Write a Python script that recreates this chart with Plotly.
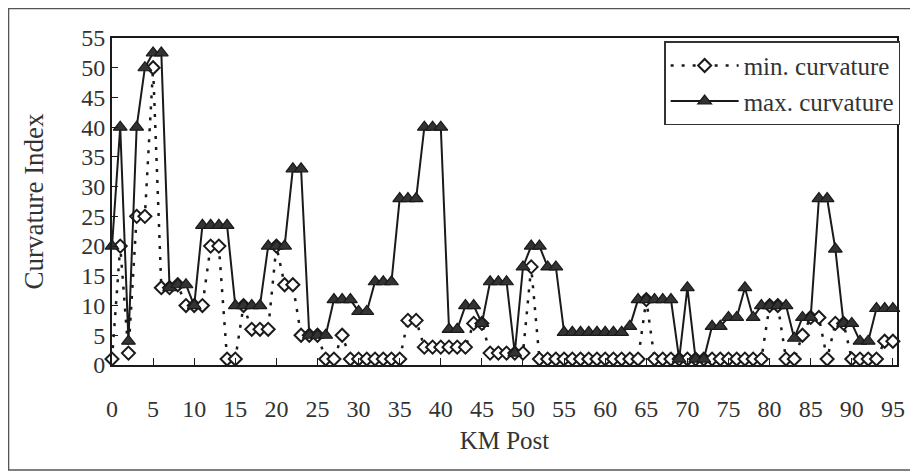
import plotly.graph_objects as go

# ---- data ----
km_post = list(range(0, 96))

min_curvature = [
    1, 20, 2, 25, 25, 50, 13, 13, 13.5, 10,
    10, 10, 20, 20, 1, 1, 10, 6, 6, 6,
    20, 13.5, 13.5, 5, 5, 5, 1, 1, 5, 1,
    1, 1, 1, 1, 1, 1, 7.5, 7.5, 3, 3,
    3, 3, 3, 3, 7, 7, 2, 2, 2, 2,
    2, 16.5, 1, 1, 1, 1, 1, 1, 1, 1,
    1, 1, 1, 1, 1, 11, 1, 1, 1, 1,
    1, 1, 1, 1, 1, 1, 1, 1, 1, 1,
    10, 10, 1, 1, 5, 8, 8, 1, 7, 7,
    1, 1, 1, 1, 4, 4,
]

max_curvature = [
    20, 40, 4, 40, 50, 52.5, 52.5, 13, 13.5, 13.5,
    10, 23.5, 23.5, 23.5, 23.5, 10, 10, 10, 10, 20,
    20, 20, 33, 33, 5, 5, 5, 11, 11, 11,
    9, 9, 14, 14, 14, 28, 28, 28, 40, 40,
    40, 6, 6, 10, 10, 7, 14, 14, 14, 2,
    16.5, 20, 20, 16.5, 16.5, 5.5, 5.5, 5.5, 5.5, 5.5,
    5.5, 5.5, 5.5, 6.5, 11, 11, 11, 11, 11, 1,
    13, 1, 1, 6.5, 6.5, 8, 8, 13, 8, 10,
    10, 10, 10, 4.5, 8, 8, 28, 28, 19.5, 7,
    7, 4, 4, 9.5, 9.5, 9.5,
]

x_ticks = [0, 5, 10, 15, 20, 25, 30, 35, 40, 45, 50, 55, 60, 65, 70, 75, 80, 85, 90, 95]
y_ticks = [0, 5, 10, 15, 20, 25, 30, 35, 40, 45, 50, 55]

FONT = "Liberation Serif, Times New Roman, serif"
INK = "#1a1a1a"
TXT = "#333333"

fig = go.Figure()

fig.add_trace(go.Scatter(
    x=km_post, y=min_curvature, name="min. curvature",
    mode="lines+markers", cliponaxis=False,
    line=dict(color=INK, width=2.5, dash="3px,8px"),
    marker=dict(symbol="diamond", size=10, color="white",
                line=dict(color=INK, width=2)),
))

fig.add_trace(go.Scatter(
    x=km_post, y=max_curvature, name="max. curvature",
    mode="lines+markers", cliponaxis=False,
    line=dict(color=INK, width=2),
    marker=dict(symbol="triangle-up", size=12, color="#333333",
                line=dict(color=INK, width=1.2)),
))

# The page body has an 8px default margin, so the figure is sized to fit the window.
fig.update_layout(
    width=910, height=468,
    margin=dict(l=104, r=21, t=30, b=111, autoexpand=False),
    paper_bgcolor="white", plot_bgcolor="white",
    font=dict(family=FONT, color=INK),
    showlegend=True,
    legend=dict(
        x=1.004, xanchor="right", y=0.99, yanchor="top",
        bgcolor="white", bordercolor="#333333", borderwidth=1.5,
        font=dict(family=FONT, size=25, color=TXT),
        itemwidth=68,
    ),
    xaxis=dict(
        range=[0, 95.5], tickmode="array", tickvals=x_ticks,
        ticks="inside", ticklen=7, tickcolor=INK,
        showline=True, linecolor=INK, linewidth=2, mirror=True,
        showgrid=False, zeroline=False,
        tickfont=dict(family=FONT, size=24, color=TXT),
        ticklabelstandoff=21,
        title=dict(text="KM Post", font=dict(family=FONT, size=25, color=TXT), standoff=11),
    ),
    yaxis=dict(
        range=[0, 55], tickmode="array", tickvals=y_ticks,
        ticks="inside", ticklen=6, tickcolor=INK,
        showline=True, linecolor=INK, linewidth=2, mirror=True,
        showgrid=False, zeroline=False,
        tickfont=dict(family=FONT, size=24, color=TXT),
        title=dict(text="Curvature Index", font=dict(family=FONT, size=27, color=TXT), standoff=30),
    ),
    shapes=[dict(
        type="rect", xref="paper", yref="paper",
        x0=-0.1318, x1=1.0204, y0=-0.321, y1=1.0902,
        line=dict(color="#555555", width=1.5), layer="below",
    )],
)

fig.write_html("out.html")
